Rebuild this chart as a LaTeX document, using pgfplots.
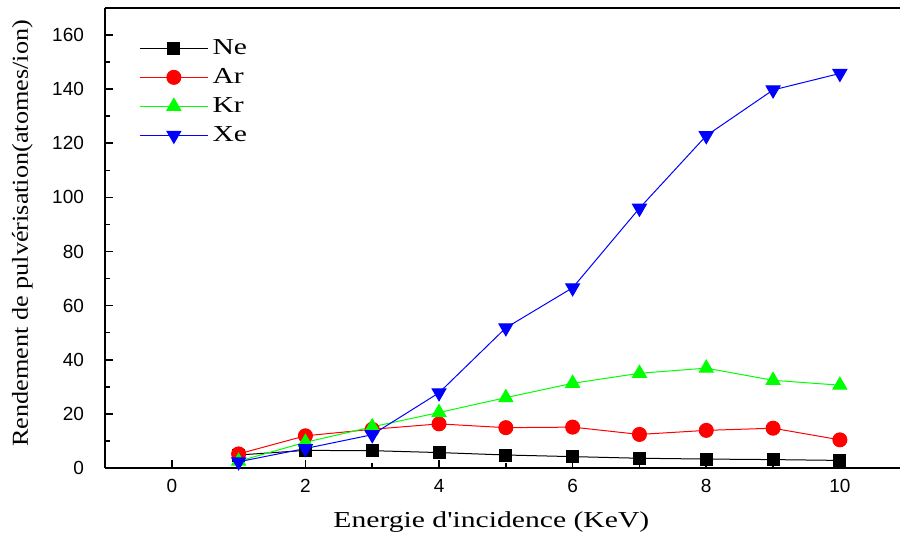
\documentclass[border=0pt]{standalone}
\usepackage{pgfplots}
\pgfplotsset{compat=1.18}
\usepackage{fontspec}
\usepackage{graphicx}
\setmainfont{Liberation Serif}
\newfontfamily\arial{Liberation Sans}
\usetikzlibrary{calc}

\begin{document}
\begin{tikzpicture}
\begin{axis}[
    name=ax,
    scale only axis,
    width=397.5pt, height=230pt,
    xmin=-1, xmax=10.9,
    ymin=0, ymax=170,
    axis lines=left,
    axis line style={-, line width=0.8pt},
    xtick={0,2,...,10}, minor xtick={1,3,...,9},
    ytick={0,20,...,160}, minor ytick={10,30,...,150},
    tick align=inside,
    major tick length=4pt, minor tick length=2.5pt,
    tick style={black, line width=0.8pt},
    /pgf/number format/assume math mode=true,
    ticklabel style={font=\arial\fontsize{9.5}{11}\selectfont},
    xticklabel style={yshift=-2pt},
    yticklabel style={xshift=-7pt},
    xlabel={\scalebox{1.3}[1]{Energie d\textquotesingle incidence (KeV)}},
    ylabel={\scalebox{1.15}[1]{Rendement de pulvérisation(atomes/ion)}},
    xlabel style={font=\fontsize{11.4}{13}\selectfont, at={(axis description cs:0.486,-0.117)}, anchor=center},
    ylabel style={font=\fontsize{11.4}{13}\selectfont, at={(axis description cs:-0.104,0.51)}, anchor=center},
    legend style={draw=none, fill=none, at={(0.035,0.95)}, anchor=north west,
        font=\fontsize{11.4}{12}\selectfont, row sep=1.5pt},
    legend cell align=left,
    legend image code/.code={\draw[mark repeat=2,mark phase=2]
        plot coordinates {(0cm,0cm) (0.6cm,0cm) (1.2cm,0cm)};},
]
\addplot[black, line width=0.5pt, mark=square*, mark size=3pt, mark options={solid, fill=black}]
    coordinates {(1,4.8) (2,6.5) (3,6.4) (4,5.7) (5,4.8) (6,4.2) (7,3.6) (8,3.3) (9,3.1) (10,2.8)};
\addlegendentry{\scalebox{1.3}[1]{Ne}}
\addplot[red, line width=0.5pt, mark=*, mark size=3.5pt, mark options={solid, fill=red}]
    coordinates {(1,5.2) (2,11.9) (3,14.3) (4,16.3) (5,14.9) (6,15.1) (7,12.4) (8,13.9) (9,14.7) (10,10.4)};
\addlegendentry{\scalebox{1.3}[1]{Ar}}
\addplot[green, line width=0.5pt, mark=triangle*, mark size=4pt, mark options={solid, fill=green}]
    coordinates {(1,2.5) (2,9.5) (3,15.2) (4,20.5) (5,26.0) (6,31.3) (7,35.0) (8,36.9) (9,32.4) (10,30.6)};
\addlegendentry{\scalebox{1.3}[1]{Kr}}
\addplot[blue, line width=0.5pt, mark=triangle*, mark size=4pt, mark options={solid, fill=blue, rotate=180}]
    coordinates {(1,2.3) (2,7.2) (3,12.3) (4,27.8) (5,51.8) (6,66.6) (7,96.0) (8,122.8) (9,139.7) (10,145.8)};
\addlegendentry{\scalebox{1.3}[1]{Xe}}
\draw[line width=0.8pt] (rel axis cs:0,1) -- (rel axis cs:1,1);
\end{axis}
\pgfresetboundingbox
\path[use as bounding box] ($(ax.south west)+(-52.5pt,-35pt)$) rectangle ($(ax.north east)+(0,4pt)$);
\end{tikzpicture}
\end{document}
